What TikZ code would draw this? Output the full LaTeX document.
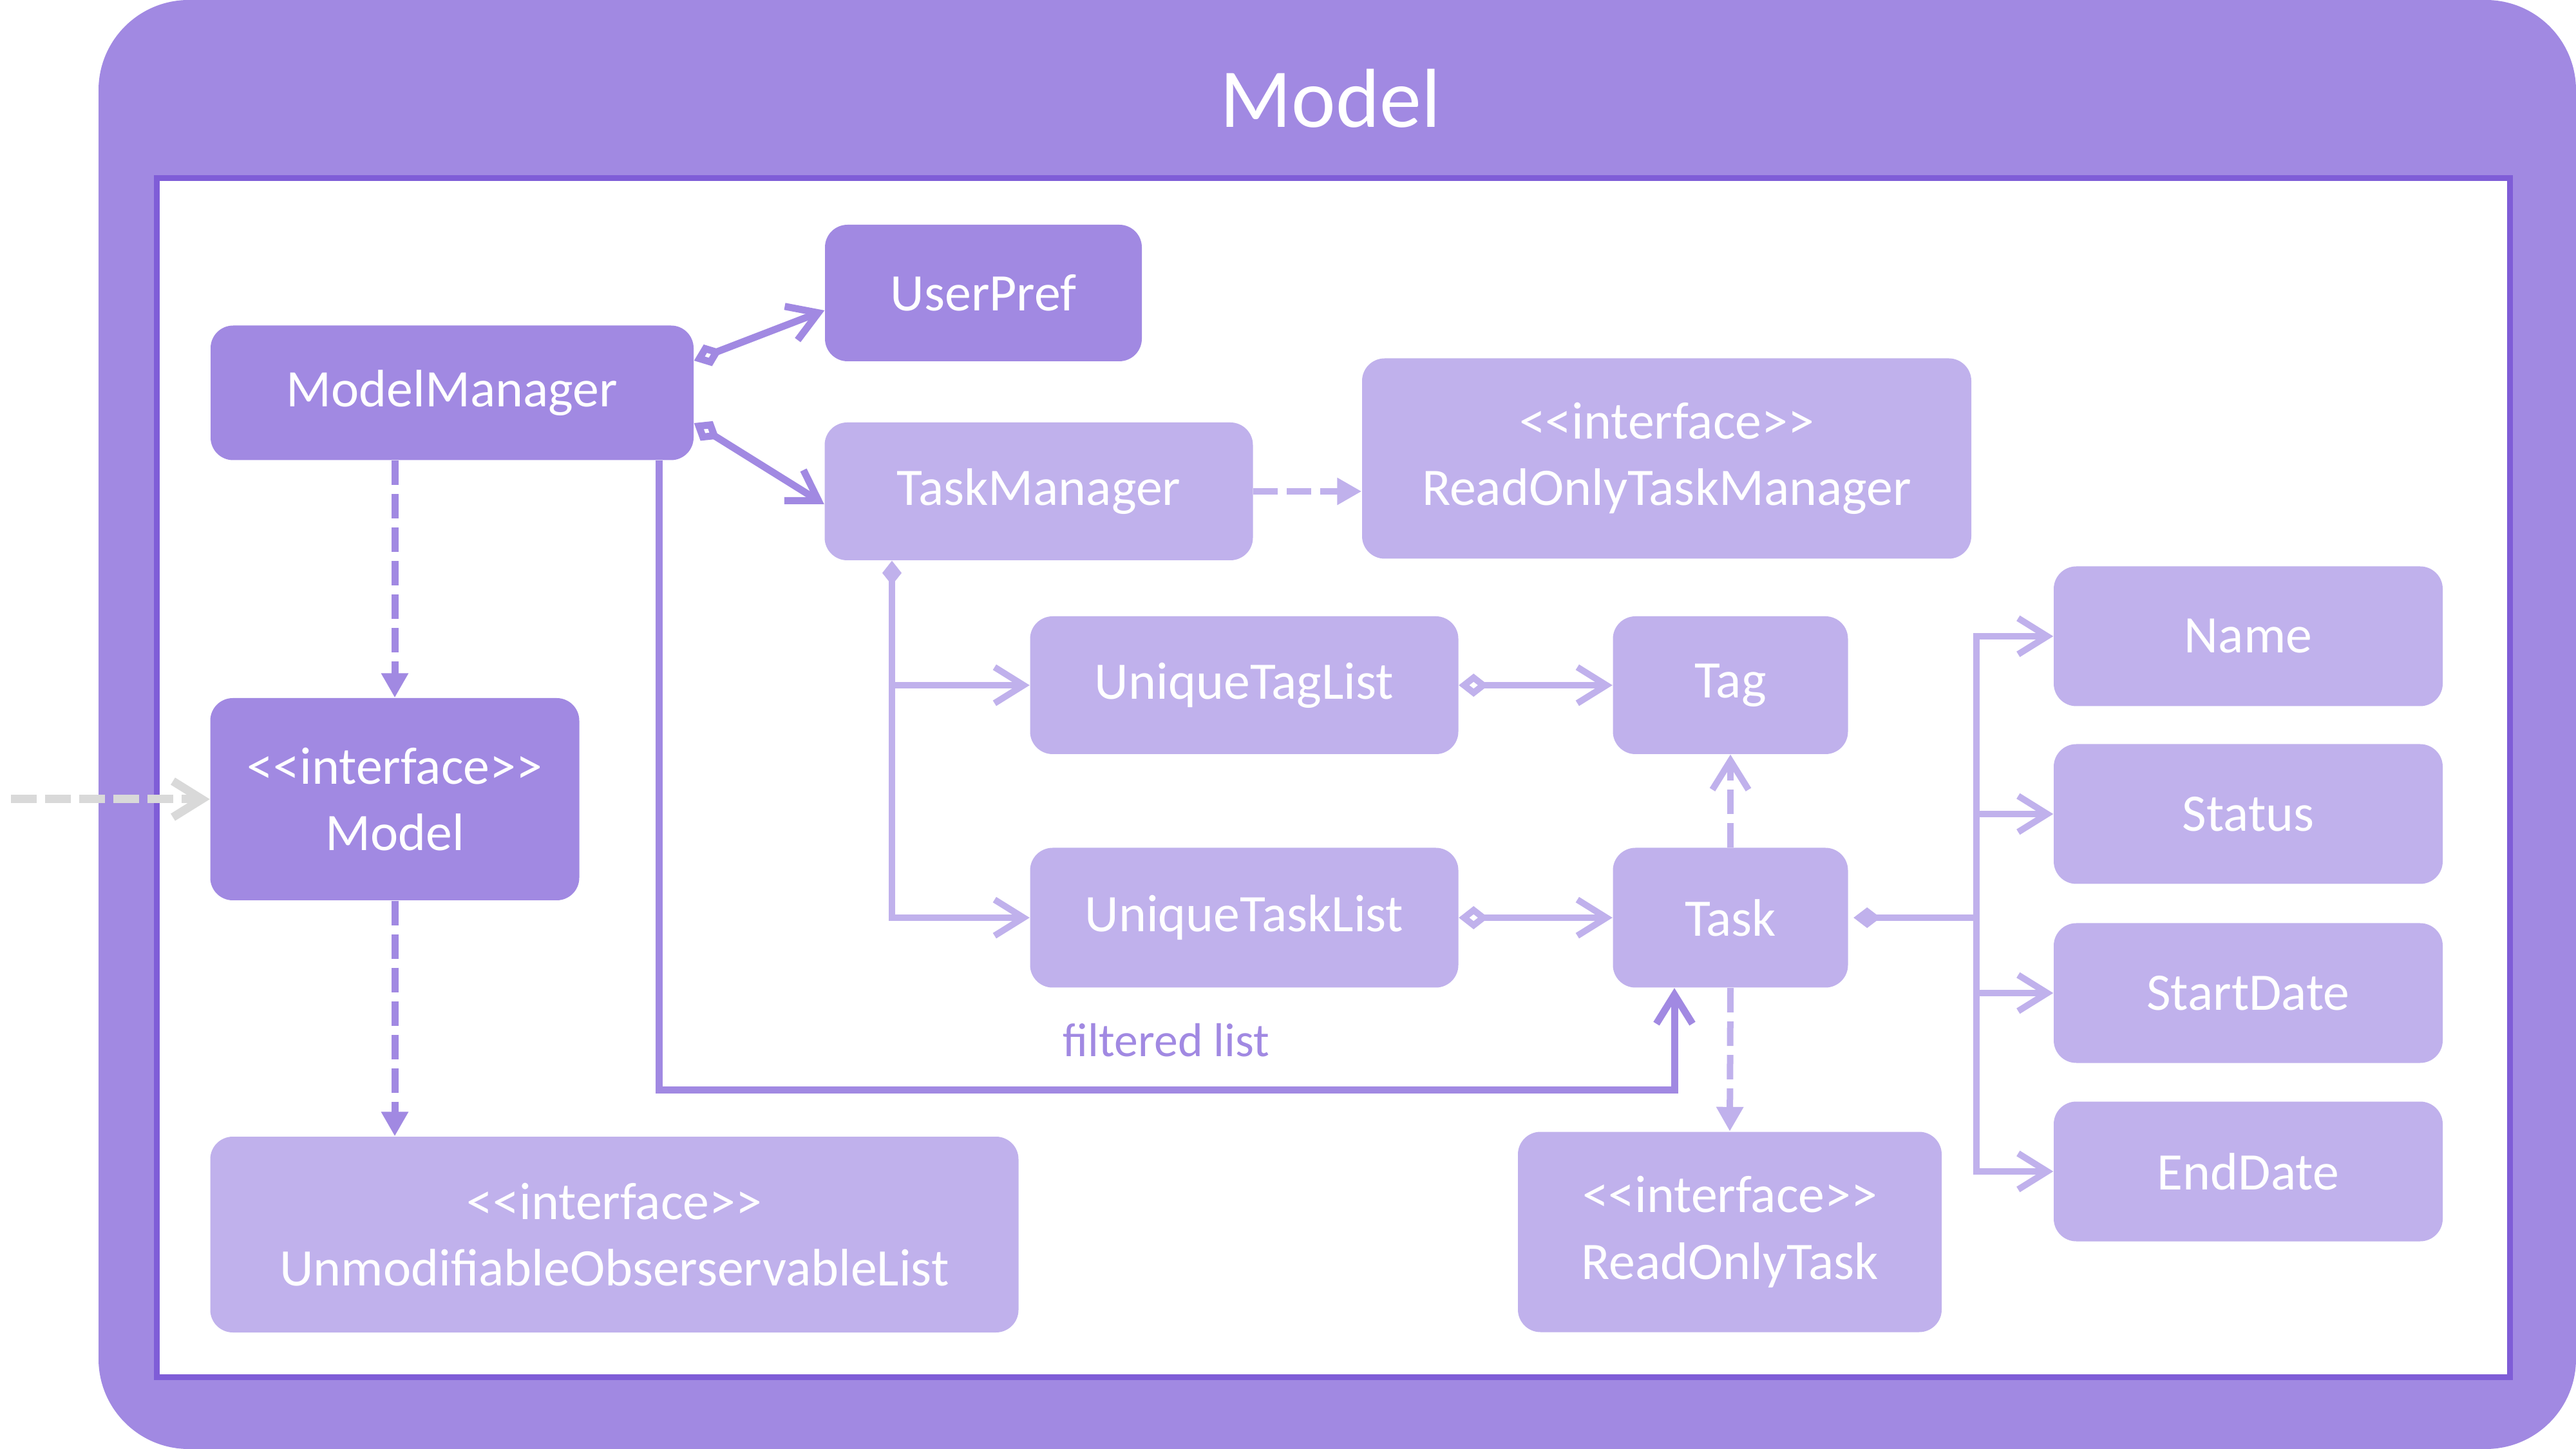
\documentclass[tikz,border=0pt]{standalone}
\usepackage{fontspec}
\setmainfont{Carlito}
\usetikzlibrary{arrows.meta}
\definecolor{mdark}{RGB}{161,137,226}
\definecolor{mlight}{RGB}{192,177,236}
\definecolor{mborder}{RGB}{127,93,215}
\definecolor{mgray}{RGB}{217,217,217}
\newcommand{\iface}{<{}<interface>{}>}
\tikzset{
  cls/.style={rectangle, rounded corners=0.35cm, text=white, align=center, inner sep=0pt,
    font=\fontsize{23.3}{29.5}\selectfont},
  darkcls/.style={cls, fill=mdark},
  lightcls/.style={cls, fill=mlight},
  darkline/.style={mdark, line width=0.11cm},
  lightline/.style={mlight, line width=0.1cm},
  dashline/.style={dash pattern=on 0.38cm off 0.14cm},
  >={Straight Barb[length=0.45cm,width=0.56cm]},
  odiam/.style={{Diamond[open,length=0.46cm,width=0.36cm]}->},
  fdiam/.style={{Diamond[length=0.38cm,width=0.3cm]}->},
  tri/.style={-{Triangle[length=0.38cm,width=0.4cm]}},
}
\begin{document}
\begin{tikzpicture}
  \useasboundingbox (0,0) rectangle (40,-22.5);
  \fill[mdark, rounded corners=1.4cm] (1.53,0) rectangle (40,-22.5);
  \draw[mborder, line width=0.09cm, fill=white] (2.43,-2.77) rectangle (38.97,-21.38);
  \node[text=white, font=\fontsize{37}{40}\selectfont] (title) at (20.66,-1.53) {Model};

  \node[darkcls, minimum width=4.92cm, minimum height=2.12cm] (userpref) at (15.27,-4.55) {UserPref};
  \node[darkcls, minimum width=7.50cm, minimum height=2.09cm] (modelmanager) at (7.02,-6.10) {ModelManager};
  \node[lightcls, minimum width=6.65cm, minimum height=2.14cm] (taskmanager) at (16.13,-7.63) {TaskManager};
  \node[lightcls, minimum width=9.46cm, minimum height=3.11cm] (rotaskmanager) at (25.88,-7.12) {\iface\\ReadOnlyTaskManager};
  \node[darkcls, minimum width=5.73cm, minimum height=3.14cm] (model) at (6.13,-12.41) {\iface\\Model};
  \node[lightcls, minimum width=6.65cm, minimum height=2.14cm] (taglist) at (19.32,-10.64) {UniqueTagList};
  \node[lightcls, minimum width=3.65cm, minimum height=2.14cm] (tag) at (26.87,-10.64) {Tag};
  \node[lightcls, minimum width=6.65cm, minimum height=2.17cm] (tasklist) at (19.32,-14.25) {UniqueTaskList};
  \node[lightcls, minimum width=3.65cm, minimum height=2.17cm] (task) at (26.87,-14.25) {Task};
  \node[lightcls, minimum width=6.04cm, minimum height=2.17cm] (name) at (34.91,-9.88) {Name};
  \node[lightcls, minimum width=6.04cm, minimum height=2.17cm] (status) at (34.91,-12.64) {Status};
  \node[lightcls, minimum width=6.04cm, minimum height=2.17cm] (startdate) at (34.91,-15.42) {StartDate};
  \node[lightcls, minimum width=6.04cm, minimum height=2.17cm] (enddate) at (34.91,-18.19) {EndDate};
  \node[lightcls, minimum width=12.55cm, minimum height=3.04cm] (uolist) at (9.54,-19.17) {\iface\\UnmodifiableObserservableList};
  \node[lightcls, minimum width=6.58cm, minimum height=3.11cm] (rotask) at (26.86,-19.13) {\iface\\ReadOnlyTask};

  \draw[darkline, odiam] ([yshift=0.5cm]modelmanager.east) -- ([yshift=-0.27cm]userpref.west);
  \draw[darkline, odiam] ([yshift=-0.47cm]modelmanager.east) -- ([yshift=-0.2cm]taskmanager.west);
  \draw[lightline, dashline, tri] (taskmanager.east) -- (taskmanager.east -| rotaskmanager.west);
  \draw[darkline, dashline, tri] (model.north |- modelmanager.south) -- (model.north);
  \draw[darkline, dashline, tri] (model.south) -- (model.south |- uolist.north);
  \coordinate (outside) at (0.17,-12.41);
  \draw[mgray, line width=0.13cm, dash pattern=on 0.4cm off 0.13cm, ->] (outside) -- (model.west);

  \coordinate (fltturn) at (26.00,-16.92);
  \draw[darkline, ->] ([xshift=3.21cm]modelmanager.south) |- (fltturn) -- (fltturn |- task.south);
  \node[text=mdark, font=\fontsize{21}{24}\selectfont] (fltlabel) at (18.11,-16.15) {filtered list};

  \coordinate (tmtrunk) at ([xshift=-2.28cm]taskmanager.south);
  \draw[lightline, fdiam] (tmtrunk) |- (tasklist.west);
  \draw[lightline, ->] (tmtrunk |- taglist.west) -- (taglist.west);
  \draw[lightline, odiam] (taglist.east) -- (tag.west);
  \draw[lightline, odiam] (tasklist.east) -- (task.west);
  \draw[lightline, dashline, ->] (task.north) -- (tag.south);
  \draw[lightline, dashline, tri] (task.south) -- (rotask.north);

  \coordinate (attrtrunk) at (30.69,-14.25);
  \draw[lightline, {Diamond[length=0.42cm,width=0.32cm]}-] ([xshift=0.08cm]task.east) -- (attrtrunk);
  \draw[lightline, line cap=rect] (attrtrunk |- name.west) -- (attrtrunk |- enddate.west);
  \foreach \attr in {name,status,startdate,enddate}
    \draw[lightline, ->] (attrtrunk |- \attr.west) -- (\attr.west);
\end{tikzpicture}
\end{document}
